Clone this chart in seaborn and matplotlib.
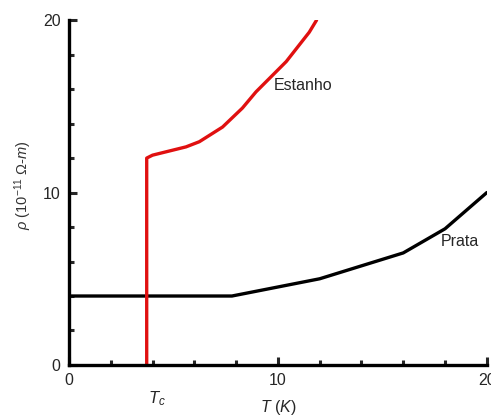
import numpy as np
import pandas as pd
import seaborn as sns
import matplotlib.pyplot as plt
from matplotlib.ticker import MultipleLocator

# Data
tin_T = [3.72, 3.72, 4.0, 5.6, 6.24, 7.35, 8.3, 8.95, 10.4, 11.5, 11.85]
tin_rho = [0.0, 12.0, 12.17, 12.65, 12.95, 13.8, 14.9, 15.84, 17.6, 19.3, 20.0]
silver_T = [0.0, 7.8, 12.0, 16.0, 18.0, 20.0]
silver_rho = [4.0, 4.0, 5.0, 6.5, 7.9, 10.0]
x_ticks = [0, 10, 20]
y_ticks = [0, 10, 20]
Tc = 3.72

sns.set_style("ticks")
plt.rcParams['font.family'] = ['Liberation Sans', 'DejaVu Sans']
plt.rcParams['mathtext.fontset'] = 'custom'
plt.rcParams['mathtext.rm'] = 'Liberation Sans'
plt.rcParams['mathtext.it'] = 'Liberation Sans:italic'

tin = pd.DataFrame({'T': tin_T, 'rho': tin_rho})
silver = pd.DataFrame({'T': silver_T, 'rho': silver_rho})

fig = plt.figure(figsize=(4.91, 4.2), dpi=100)
ax = fig.add_axes([0.1405, 0.131, 0.851, 0.821])

# estimator=None so the vertical jump at Tc is kept as drawn
sns.lineplot(data=silver, x='T', y='rho', sort=False, estimator=None,
             color='black', lw=2.4, ax=ax)
sns.lineplot(data=tin, x='T', y='rho', sort=False, estimator=None,
             color='#e01010', lw=2.4, ax=ax)

ax.set_xlim(0, 20)
ax.set_ylim(0, 20)
ax.set_xticks(x_ticks)
ax.set_yticks(y_ticks)
ax.xaxis.set_minor_locator(MultipleLocator(2))
ax.yaxis.set_minor_locator(MultipleLocator(2))
ax.tick_params(which='major', direction='in', length=6, width=2.2, labelsize=11.5, pad=6)
ax.tick_params(which='minor', direction='in', length=3.5, width=2.2)
for s in ['top', 'right']:
    ax.spines[s].set_visible(False)
for s in ['left', 'bottom']:
    ax.spines[s].set_linewidth(2.4)
    ax.spines[s].set_color('black')

ax.set_xlabel('')
ax.set_ylabel('')
fig.text(0.566, 0.03, r'$T\ (K)$', ha='center', va='center', fontsize=11.5)
fig.text(0.047, 0.56, r'$\rho\ (10^{-11}\ \Omega$-$m)$', rotation=90,
         ha='center', va='center', fontsize=10.5, color='#333333')
ax.text(Tc + 0.5, -1.95, r'$T_c$', ha='center', va='center', fontsize=12,
        clip_on=False)

ax.text(9.8, 16.2, 'Estanho', ha='left', va='center', fontsize=11.5)
ax.text(17.8, 7.15, 'Prata', ha='left', va='center', fontsize=11.5)

fig.savefig('out.png', dpi=100)
